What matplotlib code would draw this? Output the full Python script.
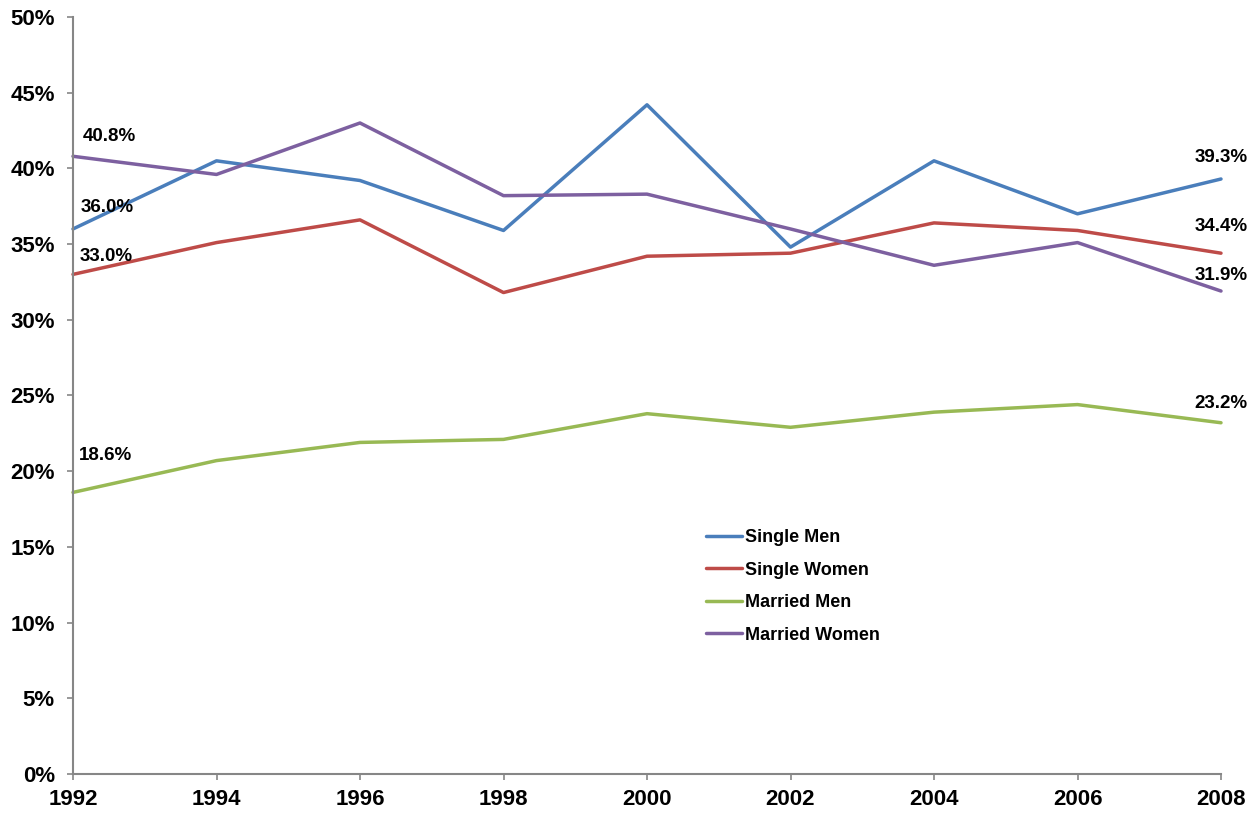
import matplotlib
matplotlib.use("Agg")
import matplotlib.pyplot as plt
from matplotlib.ticker import FuncFormatter

plt.rcParams["font.family"] = ["Liberation Sans", "DejaVu Sans"]
plt.rcParams["font.weight"] = "bold"

years = [1992, 1994, 1996, 1998, 2000, 2002, 2004, 2006, 2008]
single_men = [36.0, 40.5, 39.2, 35.9, 44.2, 34.8, 40.5, 37.0, 39.3]
single_women = [33.0, 35.1, 36.6, 31.8, 34.2, 34.4, 36.4, 35.9, 34.4]
married_men = [18.6, 20.7, 21.9, 22.1, 23.8, 22.9, 23.9, 24.4, 23.2]
married_women = [40.8, 39.6, 43.0, 38.2, 38.3, 36.0, 33.6, 35.1, 31.9]

series = [
    ("Single Men", single_men, "#4a7ebb"),
    ("Single Women", single_women, "#be4b48"),
    ("Married Men", married_men, "#98b954"),
    ("Married Women", married_women, "#7d60a0"),
]

# label offsets (pixels) for first / last point of each series
first_off = [(8, 21), (7, 18), (6, 37), (10, 20)]
last_off = [(0, 21), (0, 27), (0, 19), (0, 16)]

fig = plt.figure(figsize=(12.58, 8.16), dpi=100)
ax = fig.add_axes([73 / 1258, 42 / 816, 1148 / 1258, 757 / 816])

for (name, vals, c), fo, lo in zip(series, first_off, last_off):
    ax.plot(years, vals, color=c, lw=2.5, label=name, solid_capstyle="round")
    ax.annotate(f"{vals[0]:.1f}%", (years[0], vals[0]), xytext=fo,
                textcoords="offset pixels", ha="left", va="center",
                fontsize=13.5, fontweight="bold")
    ax.annotate(f"{vals[-1]:.1f}%", (years[-1], vals[-1]), xytext=lo,
                textcoords="offset pixels", ha="center", va="center",
                fontsize=13.5, fontweight="bold")

ax.set_xlim(1992, 2008)
ax.set_ylim(0, 50)
ax.set_xticks(years)
ax.set_yticks(range(0, 51, 5))
ax.yaxis.set_major_formatter(FuncFormatter(lambda v, p: f"{v:.0f}%"))
for s in ("top", "right"):
    ax.spines[s].set_visible(False)
for s in ("left", "bottom"):
    ax.spines[s].set_color("#868686")
    ax.spines[s].set_linewidth(1.5)
ax.tick_params(axis="both", direction="out", length=4, width=1.2,
               color="#868686", labelsize=16)
ax.tick_params(axis="x", pad=7)
ax.tick_params(axis="y", pad=9)
for lab in ax.get_xticklabels() + ax.get_yticklabels():
    lab.set_fontweight("bold")
for ln in ax.lines:
    ln.set_clip_on(False)

leg = ax.legend(loc="upper left", bbox_to_anchor=(0.537, 0.345), frameon=False,
                prop={"size": 13, "weight": "bold"}, handlelength=2.0,
                handletextpad=0.2, labelspacing=0.86)

fig.savefig("out.png", dpi=100)
